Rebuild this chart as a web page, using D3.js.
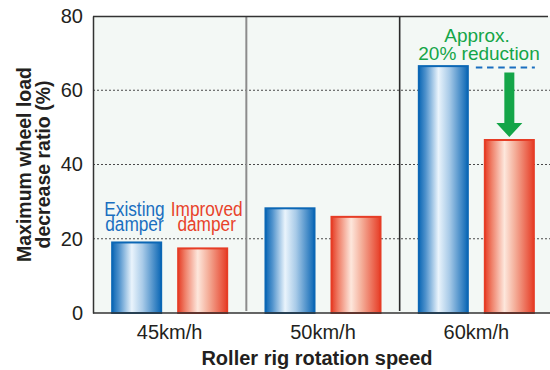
<!DOCTYPE html>
<html>
<head>
<meta charset="utf-8">
<script src="https://cdn.jsdelivr.net/npm/d3@7"></script>
<style>
  html, body { margin: 0; padding: 0; background: #ffffff; }
  svg { display: block; }
  text { font-family: "Liberation Sans", Arial, Helvetica, sans-serif; fill: #231f20; }
</style>
</head>
<body>
<svg id="chart" width="550" height="370"></svg>
<script>
// Roller rig test: maximum wheel load decrease ratio by rotation speed
const speeds = ["45km/h", "50km/h", "60km/h"];
const dampers = ["Existing", "Improved"];
const existingValues = [19.0, 28.2, 66.5];
const improvedValues = [17.4, 25.9, 46.6];
const yTicks = [0, 20, 40, 60, 80];
const gridValues = [20, 40, 60];
const damperLabels = [["Existing", "damper"], ["Improved", "damper"]];
const noteLines = ["Approx.", "20% reduction"];

const blue = "#0b67b5";
const red = "#e63d26";
const green = "#14a548";

const svg = d3.select("#chart");
const plotLeft = 93, plotRight = 553, plotTop = 16, plotBottom = 313;

const x = d3.scaleBand().domain(speeds).range([plotLeft, plotRight]).padding(0);
const xSub = d3.scaleBand().domain(dampers).range([0, x.bandwidth()])
  .paddingInner(0.227).paddingOuter(0.275);
const y = d3.scaleLinear().domain([0, 80]).range([plotBottom, plotTop]);

// gradients giving the bars a cylindrical shading
const defs = svg.append("defs");
function cylinder(id, edge, mid1, light, mid2) {
  const g = defs.append("linearGradient").attr("id", id)
    .attr("x1", "0%").attr("x2", "100%").attr("y1", "0%").attr("y2", "0%");
  [[0, edge], [0.14, mid1], [0.40, light], [0.62, mid2], [1, edge]].forEach(([o, c]) =>
    g.append("stop").attr("offset", o).attr("stop-color", c));
}
cylinder("gradBlue", "#0b67b5", "#4f92cc", "#eaf4fc", "#a9cbe8");
cylinder("gradRed", "#e63d26", "#ef7f68", "#fde7dc", "#f4ad98");

// plot background
svg.append("rect").attr("x", plotLeft).attr("y", plotTop)
  .attr("width", 550 - plotLeft).attr("height", plotBottom - plotTop)
  .attr("fill", "#f3f8f5");

// dotted gridlines
svg.append("g").selectAll("line").data(gridValues).join("line")
  .attr("x1", plotLeft).attr("x2", 550)
  .attr("y1", d => y(d)).attr("y2", d => y(d))
  .attr("stroke", "#4a4a4a").attr("stroke-width", 1)
  .attr("stroke-dasharray", "2,2");

// separators between speed groups
const seps = speeds.slice(1).map(s => x(s));
svg.append("g").selectAll("line").data(seps).join("line")
  .attr("x1", d => d).attr("x2", d => d)
  .attr("y1", plotTop).attr("y2", plotBottom - 2)
  .attr("stroke", (d, i) => i === 0 ? "#8c8c8c" : "#2a2a2a")
  .attr("stroke-width", (d, i) => i === 0 ? 2 : 1.6);

// top border of the frame
svg.append("line").attr("x1", plotLeft).attr("x2", 548)
  .attr("y1", plotTop + 0.5).attr("y2", plotTop + 0.5)
  .attr("stroke", "#333").attr("stroke-width", 1.3);

// bars
const rows = speeds.map((s, i) => ({ speed: s, values: [existingValues[i], improvedValues[i]] }));
const groups = svg.append("g").selectAll("g").data(rows).join("g")
  .attr("transform", d => `translate(${x(d.speed)},0)`);
groups.selectAll("rect").data(d => d.values.map((v, j) => ({ key: dampers[j], v })))
  .join("rect")
  .attr("x", d => xSub(d.key) + 1)
  .attr("width", xSub.bandwidth() - 2)
  .attr("y", d => y(d.v))
  .attr("height", d => plotBottom - y(d.v))
  .attr("fill", d => d.key === "Existing" ? "url(#gradBlue)" : "url(#gradRed)")
  .attr("stroke", d => d.key === "Existing" ? blue : red)
  .attr("stroke-width", 2);

// baseline
svg.append("line").attr("x1", plotLeft).attr("x2", 550)
  .attr("y1", plotBottom).attr("y2", plotBottom)
  .attr("stroke", "#333").attr("stroke-width", 1.5);

// y axis via d3.axisLeft, styled without tick marks
const yAxis = svg.append("g").attr("transform", `translate(${plotLeft},0)`)
  .call(d3.axisLeft(y).tickValues(yTicks).tickSize(0).tickPadding(10));
yAxis.select(".domain").attr("stroke", "#333").attr("stroke-width", 1.5);
yAxis.selectAll("text").attr("font-size", 20).attr("font-family", null).attr("fill", "#231f20");

// x axis labels
const xAxis = svg.append("g").attr("transform", `translate(0,${plotBottom})`)
  .call(d3.axisBottom(x).tickSize(0).tickPadding(12));
xAxis.select(".domain").remove();
xAxis.selectAll("text").attr("font-size", 20).attr("font-family", null).attr("fill", "#231f20")
  .attr("dy", "0.71em");

// axis titles
svg.append("text").attr("x", 317).attr("y", 365)
  .attr("text-anchor", "middle").attr("font-size", 20).attr("font-weight", "bold")
  .text("Roller rig rotation speed");

const yTitle = svg.append("text").attr("text-anchor", "middle")
  .attr("font-size", 19.5).attr("font-weight", "bold")
  .attr("transform", `translate(30.5,${(plotTop + plotBottom) / 2}) rotate(-90)`);
yTitle.append("tspan").attr("x", 0).attr("y", 0).text("Maximum wheel load");
yTitle.append("tspan").attr("x", 0).attr("y", 19).text("decrease ratio (%)");

// damper labels above the first group, set in a condensed style
const g0 = x(speeds[0]);
const labelCx = [g0 + xSub("Existing") + xSub.bandwidth() / 2 - 2.2,
                 g0 + xSub("Improved") + xSub.bandwidth() / 2 + 4];
damperLabels.forEach((lines, i) => {
  lines.forEach((s, k) => {
    svg.append("text")
      .attr("transform", `translate(${labelCx[i]},${215.8 + k * 15.4}) scale(0.88,1)`)
      .attr("text-anchor", "middle")
      .attr("font-size", 19.6)
      .style("fill", i === 0 ? "#1a6fc0" : "#e8432b")
      .text(s);
  });
});

// reduction note at 60km/h
const g2 = x(speeds[2]);
const blueRight = g2 + xSub("Existing") + xSub.bandwidth();
const redLeft = g2 + xSub("Improved");
const redRight = redLeft + xSub.bandwidth();
const arrowCx = redLeft + xSub.bandwidth() / 2;

svg.append("line")
  .attr("x1", blueRight + 7).attr("x2", redRight)
  .attr("y1", y(existingValues[2]) + 1.5).attr("y2", y(existingValues[2]) + 1.5)
  .attr("stroke", "#1a6fc0").attr("stroke-width", 2)
  .attr("stroke-dasharray", "6.5,4.7");

const shaftTop = y(existingValues[2]) + 6.5;
const tip = y(improvedValues[2]) - 3;
const headTop = tip - 14;
svg.append("path")
  .attr("d", d3.line()([
    [arrowCx - 5, shaftTop], [arrowCx + 5, shaftTop], [arrowCx + 5, headTop],
    [arrowCx + 13, headTop], [arrowCx, tip], [arrowCx - 13, headTop],
    [arrowCx - 5, headTop]
  ]) + "Z")
  .attr("fill", green);

const note = svg.append("text").attr("text-anchor", "middle").attr("font-size", 19)
  .style("fill", green);
note.append("tspan").attr("x", 477).attr("y", 42).text(noteLines[0]);
note.append("tspan").attr("x", 479).attr("y", 60).text(noteLines[1]);
</script>
</body>
</html>
